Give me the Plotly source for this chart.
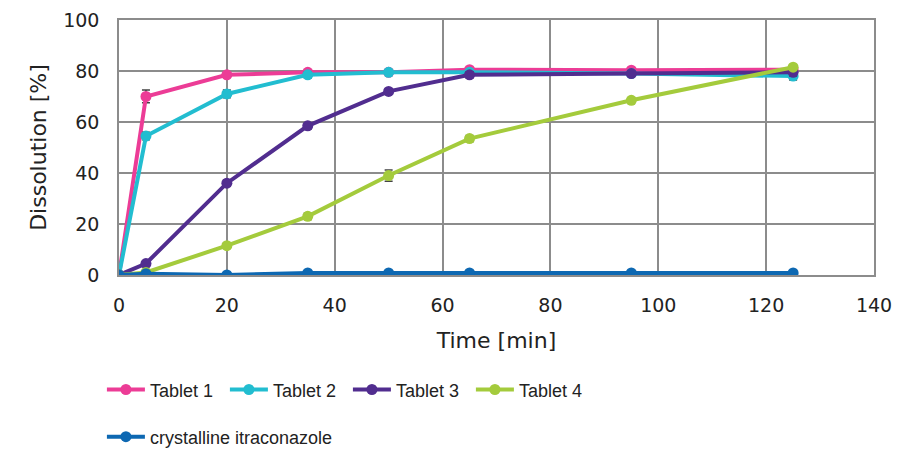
import plotly.graph_objects as go

time_min = [0, 5, 20, 35, 50, 65, 95, 125]

tablet_1 = [0, 70, 78.5, 79.5, 79.5, 80.5, 80.3, 80.5]
tablet_2 = [0, 54.5, 71, 78.5, 79.5, 79.5, 79, 78]
tablet_3 = [0, 4.5, 36, 58.5, 72, 78.5, 79, 79.5]
tablet_4 = [0, 1, 11.5, 23, 39, 53.5, 68.5, 81.5]
crystalline = [0, 0.5, 0, 0.8, 0.8, 0.8, 0.8, 0.8]

err_1 = [0, 2.5, 1, 0.8, 0.5, 0.8, 0.8, 0.8]
err_2 = [0, 1.5, 1.5, 1.2, 0.8, 0.8, 0.8, 1.5]
err_3 = [0, 0.8, 1.2, 1.2, 1, 1.2, 1, 1.5]
err_4 = [0, 0.5, 1, 1.2, 2.2, 1.2, 1, 1]
err_c = [0, 0.3, 0.3, 0.3, 0.3, 0.3, 0.3, 0.3]

names = ["Tablet 1", "Tablet 2", "Tablet 3", "Tablet 4", "crystalline itraconazole"]
series = [tablet_1, tablet_2, tablet_3, tablet_4, crystalline]
errors = [err_1, err_2, err_3, err_4, err_c]
colors = ["#EC3C96", "#22BDD0", "#512D8F", "#A4CB3C", "#0D68B2"]
legends = ["legend", "legend", "legend", "legend", "legend2"]

fig = go.Figure()
for name, y, err, color, leg in zip(names, series, errors, colors, legends):
    fig.add_trace(
        go.Scatter(
            x=time_min,
            y=y,
            name=name,
            mode="lines+markers",
            line=dict(color=color, width=4),
            marker=dict(color=color, size=11),
            error_y=dict(type="data", array=err, color="#444444", thickness=1.5, width=4),
            legend=leg,
        )
    )

font = "DejaVu Sans, Verdana, sans-serif"
legend_font = dict(size=18, family="Liberation Sans, Arial, sans-serif", color="#222222")
axis_style = dict(
    showgrid=True,
    gridcolor="#8c8c8c",
    gridwidth=1.5,
    showline=True,
    linecolor="#8c8c8c",
    linewidth=1.5,
    mirror=True,
    zeroline=False,
    automargin=False,
    ticks="outside",
    tickcolor="rgba(0,0,0,0)",
    tickfont=dict(size=19, color="#222222", family=font),
)

# page body has an 8px offset, so margins are shifted to keep the plot area in place
fig.update_layout(
    width=903,
    height=454,
    margin=dict(l=111, r=37, t=12, b=187),
    plot_bgcolor="white",
    paper_bgcolor="white",
    font=dict(family=font, color="#222222"),
    xaxis=dict(
        range=[0, 140],
        dtick=20,
        ticklen=12,
        title=dict(text="Time [min]", font=dict(size=22), standoff=18),
        **axis_style,
    ),
    yaxis=dict(
        range=[0, 100],
        dtick=20,
        ticklen=14,
        title=dict(text="Dissolution [%]", font=dict(size=22), standoff=10),
        **axis_style,
    ),
    legend=dict(
        orientation="h",
        xref="container",
        yref="container",
        x=0.104,
        y=0.159,
        xanchor="left",
        yanchor="middle",
        itemwidth=38,
        entrywidth=70,
        font=legend_font,
    ),
    legend2=dict(
        orientation="h",
        xref="container",
        yref="container",
        x=0.104,
        y=0.055,
        xanchor="left",
        yanchor="middle",
        itemwidth=38,
        font=legend_font,
    ),
)

fig.write_html("out.html")
